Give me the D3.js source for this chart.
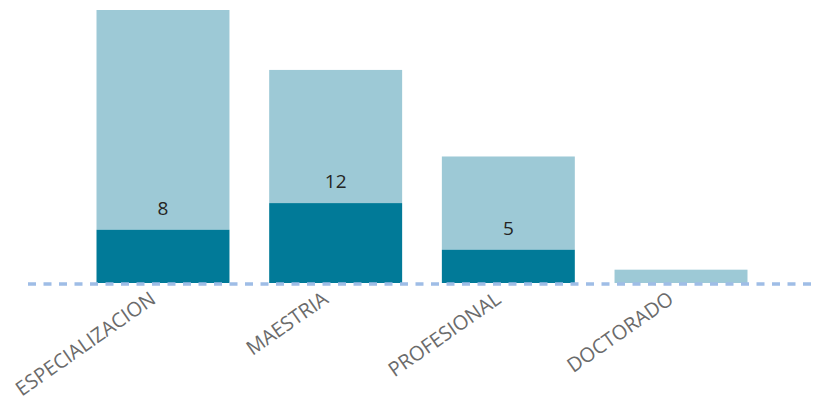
<!doctype html>
<html lang="es">
<head>
  <meta charset="utf-8">
  <title>Nivel de formacion</title>
  <script src="https://cdn.jsdelivr.net/npm/d3@7"></script>
  <style>
    body { margin: 0; background: #fff; }
    svg { display: block; }
    .cat { font-family: "Open Sans", sans-serif; fill: #6b6b6b; }
    .val { font-family: "Open Sans", sans-serif; fill: #252423; }
  </style>
</head>
<body>
<svg id="chart" width="813" height="401"></svg>
<script>
  // datos
  var categorias = ["ESPECIALIZACION", "MAESTRIA", "PROFESIONAL", "DOCTORADO"];
  var serieOscura = [8, 12, 5, 0];
  var serieClara = [33, 20, 14, 2];
  var etiquetas = ["8", "12", "5", ""];

  var W = 813, H = 401;
  var svg = d3.select("#chart");

  var x = d3.scaleBand()
    .domain(categorias)
    .range([76.65, 767.35])
    .paddingInner(0.23)
    .paddingOuter(0.115);

  var y = d3.scaleLinear()
    .domain([0, 41])
    .range([283, 10]);

  var filas = categorias.map(function(c, i) {
    return { cat: c, oscura: serieOscura[i], clara: serieClara[i], etiqueta: etiquetas[i] };
  });

  // segmento claro (encima)
  svg.append("g").selectAll("rect")
    .data(filas).enter()
    .append("rect")
      .attr("x", function(d) { return x(d.cat); })
      .attr("width", x.bandwidth())
      .attr("y", function(d) { return y(d.oscura + d.clara); })
      .attr("height", function(d) { return y(d.oscura) - y(d.oscura + d.clara); })
      .attr("fill", "#9dc9d6");

  // segmento oscuro (base)
  svg.append("g").selectAll("rect")
    .data(filas).enter()
    .append("rect")
      .attr("x", function(d) { return x(d.cat); })
      .attr("width", x.bandwidth())
      .attr("y", function(d) { return y(d.oscura); })
      .attr("height", function(d) { return y(0) - y(d.oscura); })
      .attr("fill", "#017a98");

  // etiquetas de datos
  svg.append("g").selectAll("text")
    .data(filas.filter(function(d) { return d.etiqueta !== ""; })).enter()
    .append("text")
      .attr("class", "val")
      .attr("x", function(d) { return x(d.cat) + x.bandwidth() / 2; })
      .attr("y", function(d) { return y(d.oscura) - 15; })
      .attr("text-anchor", "middle")
      .attr("font-size", "19px")
      .text(function(d) { return d.etiqueta; });

  // linea base punteada
  svg.append("line")
    .attr("x1", 28).attr("x2", W)
    .attr("y1", 284).attr("y2", 284)
    .attr("stroke", "#9fbde6")
    .attr("stroke-width", 3.5)
    .attr("stroke-dasharray", "8,7.5");

  // eje x con etiquetas giradas
  var ejeX = svg.append("g")
    .attr("transform", "translate(0,283)")
    .call(d3.axisBottom(x).tickSize(0).tickPadding(0));
  ejeX.select(".domain").remove();
  ejeX.selectAll("text")
    .attr("class", "cat")
    .attr("font-size", "20px")
    .attr("text-anchor", "end")
    .attr("dy", null)
    .attr("y", 0)
    .attr("transform", "translate(-6,19) rotate(-35)");
</script>
</body>
</html>
